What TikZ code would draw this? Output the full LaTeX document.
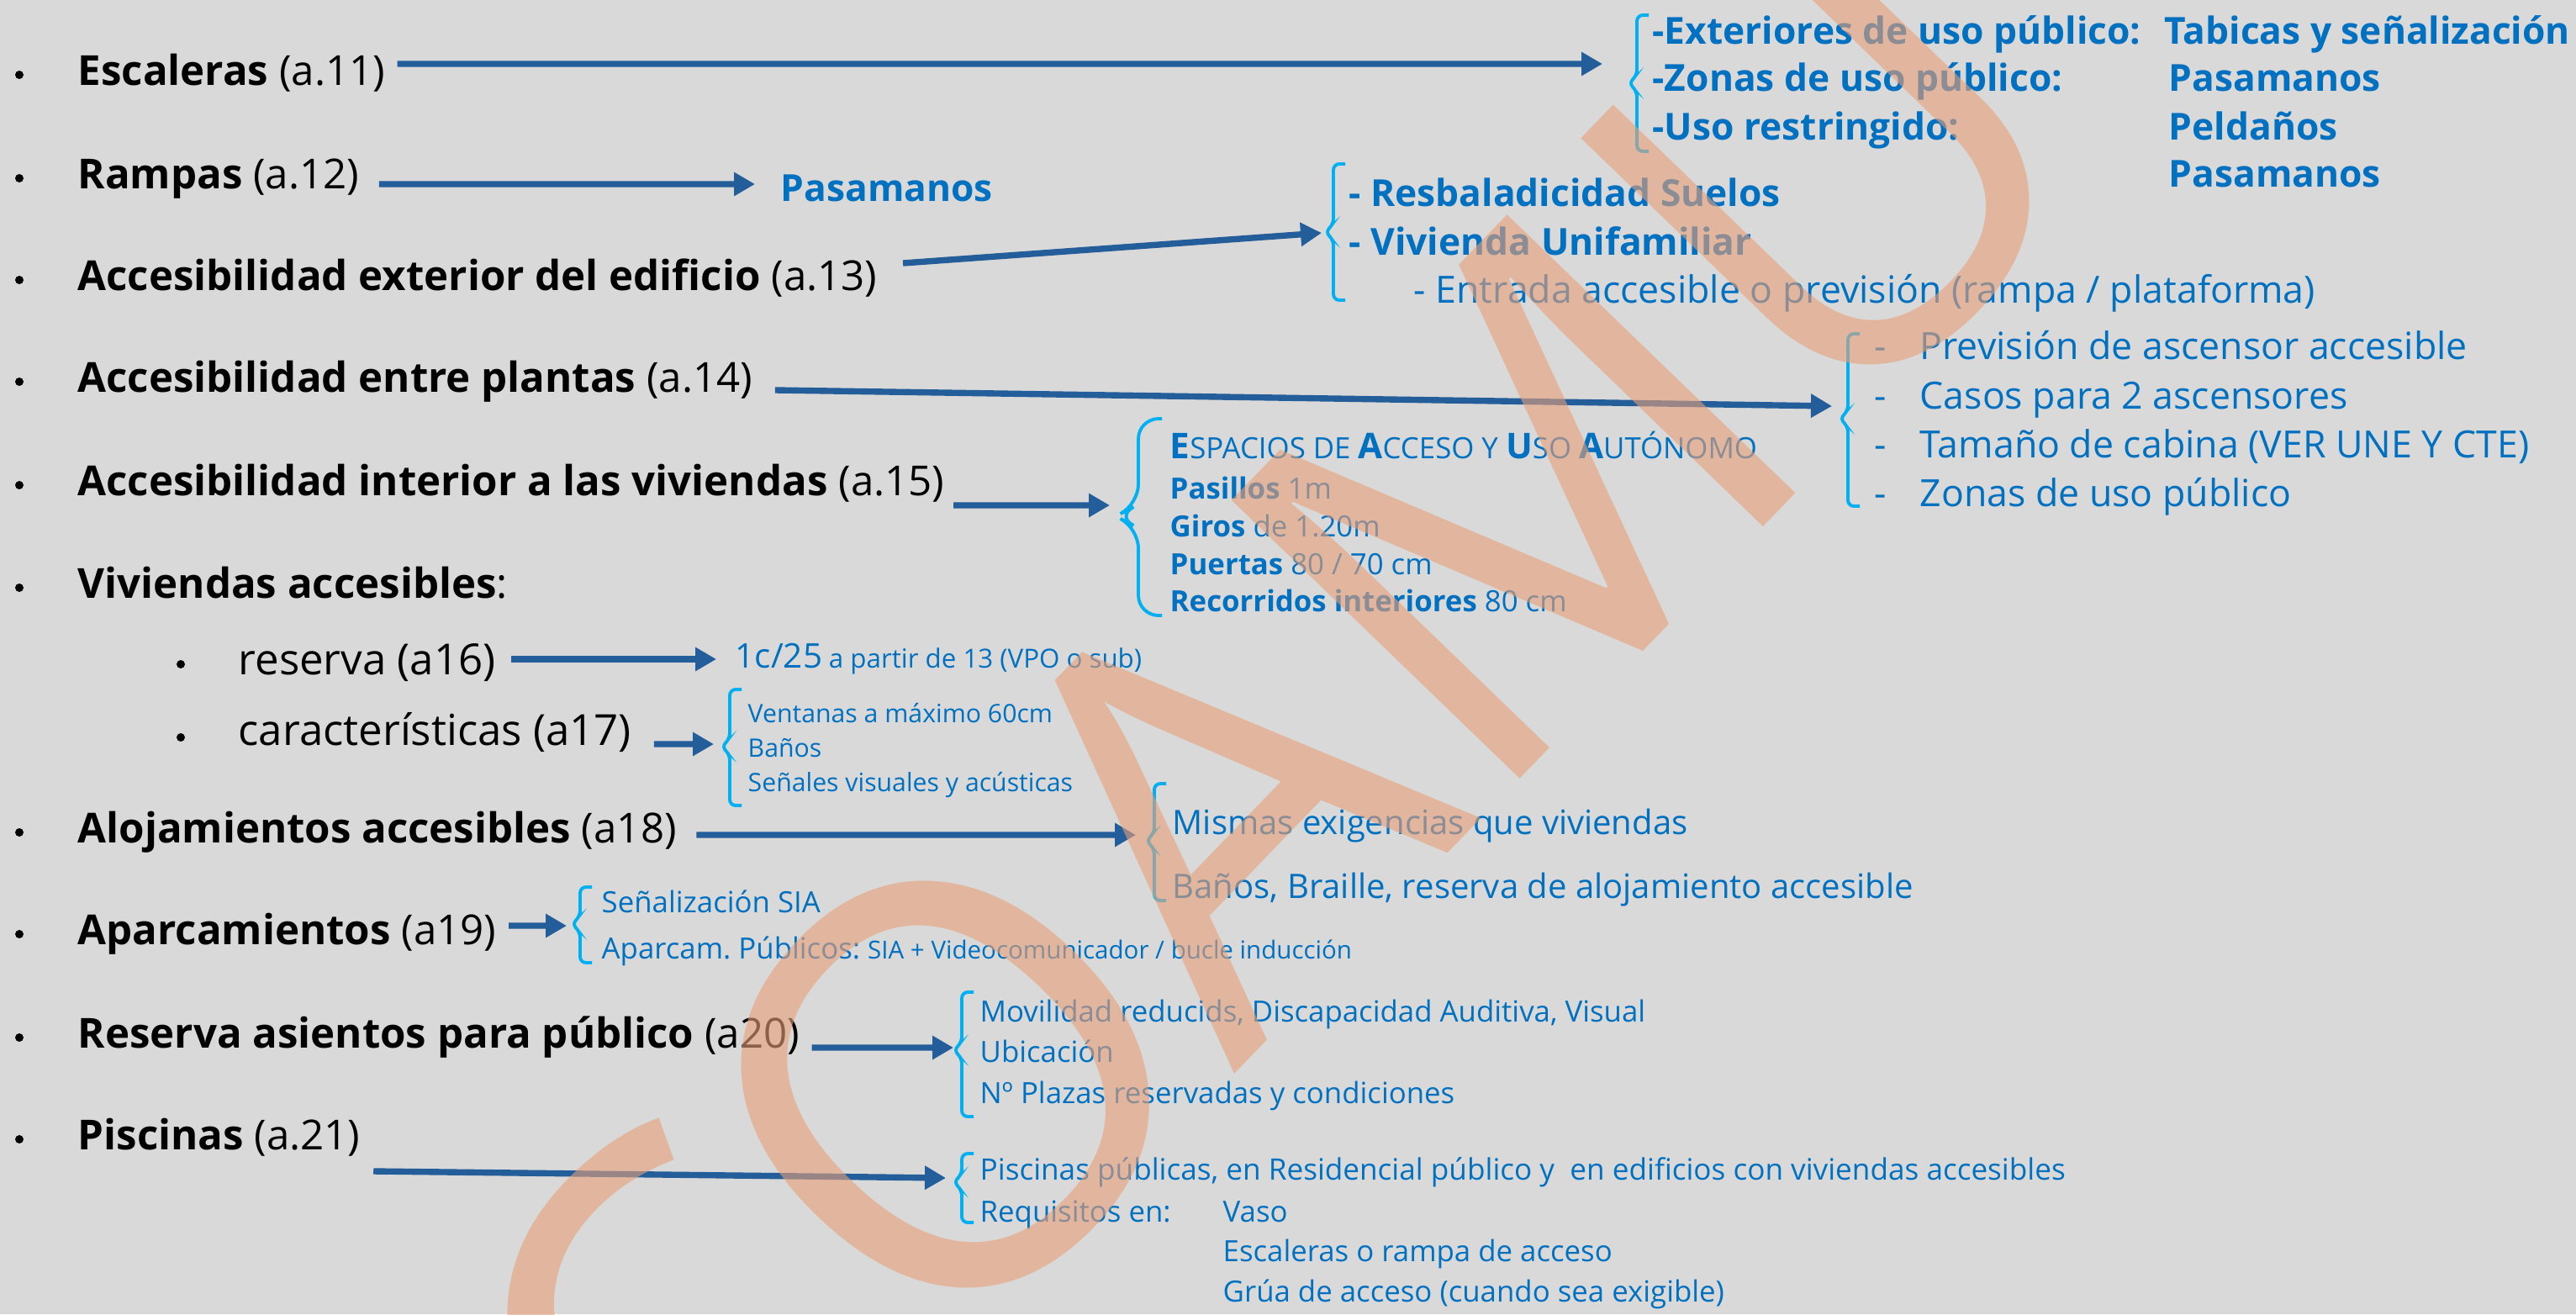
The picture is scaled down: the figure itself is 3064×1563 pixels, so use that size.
\documentclass[tikz,border=0pt]{standalone}
\usepackage{fontspec}
\setmainfont{Open Sans}
\usetikzlibrary{arrows.meta}
\frenchspacing

\definecolor{fondo}{RGB}{217,217,217}
\definecolor{flechaazul}{RGB}{35,94,154}
\definecolor{textoazul}{RGB}{0,112,192}
\definecolor{llaveazul}{RGB}{0,176,240}
\definecolor{marca}{RGB}{232,160,120}

\tikzset{
    txt/.style={anchor=west, inner sep=0pt, text depth=0pt},
    principal/.style={txt, text height=10pt, font=\fontsize{14}{16}\selectfont},
    secund/.style={txt, text height=10.3pt, font=\fontsize{14.5}{16}\selectfont},
    azulg/.style={txt, text=textoazul, text height=9pt, font=\bfseries\fontsize{12.6}{14}\selectfont},
    azulr/.style={txt, text=textoazul, text height=9.1pt, font=\fontsize{12.7}{14}\selectfont},
    azulm/.style={txt, text=textoazul, text height=8.1pt, font=\fontsize{11.4}{13}\selectfont},
    azuln/.style={txt, text=textoazul, text height=7.1pt, font=\fontsize{9.9}{11}\selectfont},
    azulp/.style={txt, text=textoazul, text height=6.1pt, font=\fontsize{8.6}{10}\selectfont},
    flecha/.style={draw=flechaazul, line width=2.1pt, -{Triangle[length=2.5mm,width=2.7mm]}},
    corchete/.style={draw=llaveazul, line width=1.1pt, rounded corners=0.7mm},
    marcaagua/.style={text=marca, text opacity=0.6, inner sep=0pt, font=\fontsize{190}{190}\selectfont}
}

\newcommand{\scini}[2]{{\fontsize{12}{13}\selectfont\bfseries #1}{\fontsize{9.9}{11}\selectfont #2}}

\begin{document}
\begin{tikzpicture}[x=0.1mm, y=-0.1mm]
    \fill[fondo] (0,0) rectangle (3064,1563);
    \useasboundingbox (0,0) rectangle (3064,1563);

    % columna izquierda
    \foreach \yb in {89,212,333,454,577,699,990,1111,1234,1355}
        \fill (23,\yb) circle[radius=0.5mm];
    \foreach \yb in {790,877}
        \fill (215,\yb) circle[radius=0.5mm];

    \node[principal] (esc) at (92,84) {\textbf{Escaleras} (a.11)};
    \node[principal] (ram) at (92,207) {\textbf{Rampas} (a.12)};
    \node[principal] (accext) at (92,328) {\textbf{Accesibilidad exterior del edificio} (a.13)};
    \node[principal] (accent) at (92,449) {\textbf{Accesibilidad entre plantas} (a.14)};
    \node[principal] (accint) at (92,572) {\textbf{Accesibilidad interior a las viviendas} (a.15)};
    \node[principal] (vivacc) at (92,694) {\textbf{Viviendas accesibles}:};
    \node[secund] (reserva) at (283,784) {reserva (a16)};
    \node[secund] (caract) at (283,868) {características (a17)};
    \node[principal] (aloj) at (92,985) {\textbf{Alojamientos accesibles} (a18)};
    \node[principal] (aparc) at (92,1106) {\textbf{Aparcamientos} (a19)};
    \node[principal] (resas) at (92,1229) {\textbf{Reserva asientos para público} (a20)};
    \node[principal] (pisc) at (92,1350) {\textbf{Piscinas} (a.21)};

    % escaleras
    \node[azulg] (ext) at (1965,37) {-Exteriores de uso público:};
    \node[azulg] (zon) at (1965,93) {-Zonas de uso público:};
    \node[azulg] (usor) at (1965,151) {-Uso restringido:};
    \node[azulg] (tab) at (2574,37) {Tabicas y señalización};
    \node[azulg] (pasa) at (2579,93) {Pasamanos};
    \node[azulg] (pel) at (2579,151) {Peldaños};
    \node[azulg] (pasb) at (2579,207) {Pasamanos};
    \draw[corchete] (1961,18) -- ++(-14,0) -- (1947,90) -- ++(-10,9) -- ++(10,9) -- (1947,180) -- ++(14,0);
    \coordinate (e1) at (1906,76);

    % rampas
    \node[azulg] (pasr) at (928,224) {Pasamanos};
    \coordinate (e2) at (898,219);

    % exterior
    \node[azulg] (resb) at (1604,230) {- Resbaladicidad Suelos};
    \node[azulg] (vivu) at (1604,288) {- Vivienda Unifamiliar};
    \node[azulr] (entr) at (1681,345) {- Entrada accesible o previsión (rampa / plataforma)};
    \draw[corchete] (1600,195) -- ++(-14,0) -- (1586,267) -- ++(-10,9) -- ++(10,9) -- (1586,357) -- ++(14,0);
    \coordinate (e3) at (1572,277);

    % entre plantas
    \node[azulr] (prev) at (2229,412) {\makebox[5.4mm][l]{-}Previsión de ascensor accesible};
    \node[azulr] (casos) at (2229,470) {\makebox[5.4mm][l]{-}Casos para 2 ascensores};
    \node[azulr] (cab) at (2229,528) {\makebox[5.4mm][l]{-}Tamaño de cabina (VER UNE Y CTE)};
    \node[azulr] (zonas) at (2229,586) {\makebox[5.4mm][l]{-}Zonas de uso público};
    \draw[corchete] (2212,397) -- ++(-14,0) -- (2198,489) -- ++(-10,9) -- ++(10,9) -- (2198,602) -- ++(14,0);
    \coordinate (e4) at (2179,483);

    % interior viviendas
    \node[azuln, text height=8.5pt] (esp) at (1391,531) {\scini{E}{SPACIOS DE }\scini{A}{CCESO Y }\scini{U}{SO }\scini{A}{UTÓNOMO}};
    \node[azuln] (pasi) at (1391,581) {\textbf{Pasillos} 1m};
    \node[azuln] (giro) at (1391,626) {\textbf{Giros} de 1.20m};
    \node[azuln] (puer) at (1391,671) {\textbf{Puertas} 80 / 70 cm};
    \node[azuln] (reco) at (1391,715) {\textbf{Recorridos interiores} 80 cm};
    \draw[corchete, rounded corners=2.4mm] (1382,498) -- ++(-28,0) -- (1354,600) -- ++(-27,14) -- ++(27,14) -- (1354,732) -- ++(28,0);
    \coordinate (e5) at (1320,601);

    % viviendas accesibles
    \node[azulp] (cuota) at (874,784) {{\fontsize{11.5}{13}\selectfont 1c/25} {\fontsize{8.9}{10}\selectfont a partir de 13 (VPO o sub)}};
    \coordinate (e7) at (852,784);
    \node[azulp] (vent) at (889,849) {Ventanas a máximo 60cm};
    \node[azulp] (banos) at (889,890) {Baños};
    \node[azulp] (senal) at (889,931) {Señales visuales y acústicas};
    \draw[corchete] (882,820) -- ++(-14,0) -- (868,879) -- ++(-10,9) -- ++(10,9) -- (868,958) -- ++(14,0);
    \coordinate (e8) at (849,885);

    % alojamientos
    \node[azulm] (mism) at (1394,978) {Mismas exigencias que viviendas};
    \node[azulm] (brai) at (1394,1054) {Baños, Braille, reserva de alojamiento accesible};
    \draw[corchete] (1387,932) -- ++(-14,0) -- (1373,991) -- ++(-10,9) -- ++(10,9) -- (1373,1071) -- ++(14,0);
    \coordinate (e9) at (1351,993);

    % aparcamientos
    \node[azuln] (sia) at (715,1073) {Señalización SIA};
    \node[azuln] (apub) at (715,1128) {Aparcam. Públicos: {\fontsize{8.4}{10}\selectfont SIA + Videocomunicador / bucle inducción}};
    \draw[corchete] (704,1055) -- ++(-14,0) -- (690,1090) -- ++(-10,9) -- ++(10,9) -- (690,1145) -- ++(14,0);
    \coordinate (e10) at (674,1101);

    % asientos
    \node[azuln] (movi) at (1165,1203) {Movilidad reducids, Discapacidad Auditiva, Visual};
    \node[azuln] (ubic) at (1165,1251) {Ubicación};
    \node[azuln] (plaz) at (1165,1300) {Nº Plazas reservadas y condiciones};
    \draw[corchete] (1158,1180) -- ++(-14,0) -- (1144,1240) -- ++(-10,9) -- ++(10,9) -- (1144,1328) -- ++(14,0);
    \coordinate (e11) at (1134,1246);

    % piscinas
    \node[azuln, font=\fontsize{10}{11}\selectfont] (ppub) at (1165,1391) {Piscinas públicas, en Residencial público y \ en edificios con viviendas accesibles};
    \node[azuln] (requ) at (1165,1441) {Requisitos en:};
    \node[azuln] (vaso) at (1454,1441) {Vaso};
    \node[azuln] (escr) at (1454,1488) {Escaleras o rampa de acceso};
    \node[azuln] (grua) at (1454,1536) {Grúa de acceso (cuando sea exigible)};
    \draw[corchete] (1158,1372) -- ++(-14,0) -- (1144,1397) -- ++(-10,9) -- ++(10,9) -- (1144,1454) -- ++(14,0);
    \coordinate (e12) at (1125,1401);

    % flechas
    \draw[flecha] ([xshift=1.4mm,yshift=0.8mm]esc.east) -- (e1);
    \draw[flecha] ([xshift=2.3mm,yshift=-1.2mm]ram.east) -- (e2);
    \draw[flecha] ([xshift=3mm,yshift=1.5mm]accext.east) -- (e3);
    \draw[flecha] ([xshift=2.6mm,yshift=-1.5mm]accent.east) -- (e4);
    \draw[flecha] ([xshift=1mm,yshift=-2.9mm]accint.east) -- (e5);
    \draw[flecha] ([xshift=1.8mm]reserva.east) -- (e7);
    \draw[flecha] ([xshift=2.6mm,yshift=-1.7mm]caract.east) -- (e8);
    \draw[flecha] ([xshift=2.3mm,yshift=-0.8mm]aloj.east) -- (e9);
    \draw[flecha] ([xshift=1.4mm,yshift=0.5mm]aparc.east) -- (e10);
    \draw[flecha] ([xshift=1.4mm,yshift=-1.7mm]resas.east) -- (e11);
    \draw[flecha] ([xshift=1.5mm,yshift=-4.3mm]pisc.east) -- (e12);

    % marca de agua
    \node[marcaagua, rotate=46] (wm) at (1504,897) {COAMU};
\end{tikzpicture}
\end{document}
